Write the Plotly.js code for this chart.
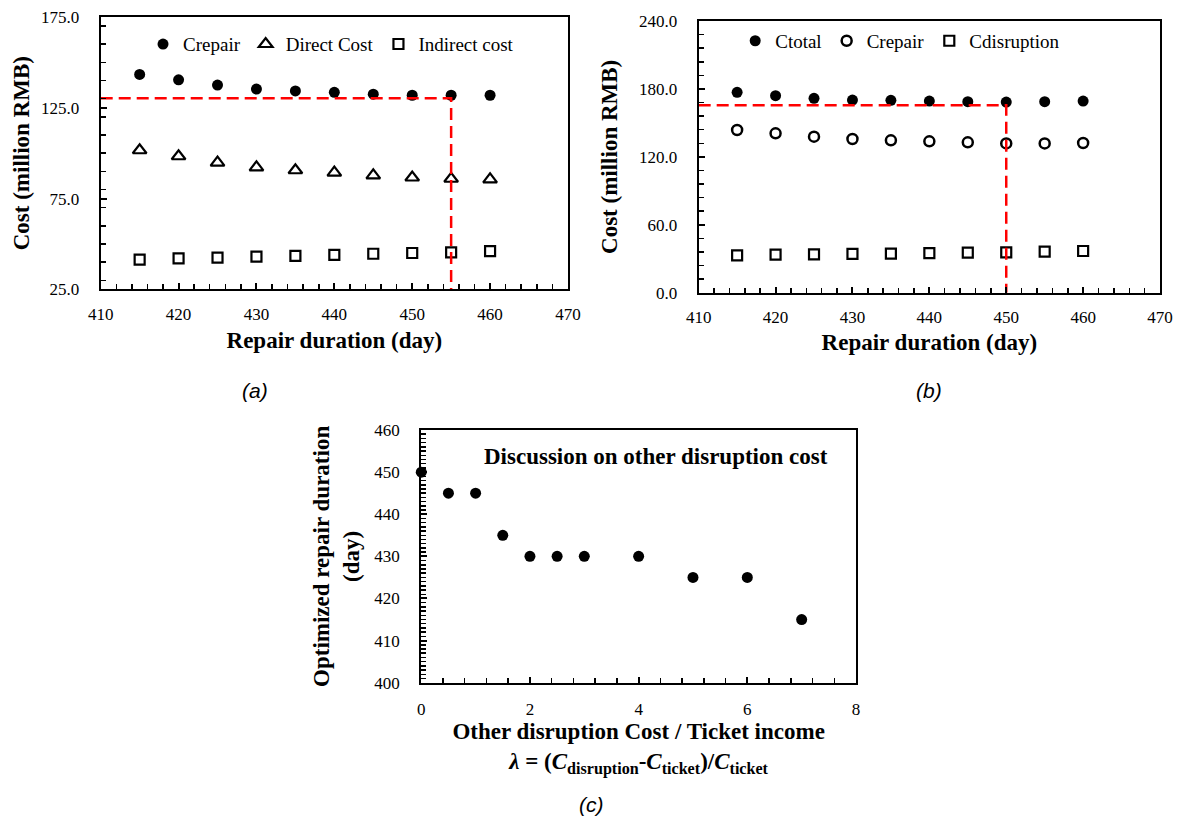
<!DOCTYPE html>
<html>
<head>
<meta charset="utf-8">
<script src="https://cdn.plot.ly/plotly-3.0.1.min.js"></script>
<style>
  html, body { margin: 0; padding: 0; background: #ffffff; }
  #chart { width: 1182px; height: 818px; }
</style>
</head>
<body>
<div id="chart"></div>
<script>
// ---------- data ----------
const repairDuration = [415, 420, 425, 430, 435, 440, 445, 450, 455, 460];

// panel (a)
const aCrepair      = [143.4, 140.4, 137.5, 135.3, 134.3, 133.5, 132.5, 131.9, 131.9, 131.9];
const aDirectCost   = [101.6, 98.3, 94.8, 92.2, 90.6, 89.3, 87.8, 86.6, 85.9, 85.6];
const aIndirectCost = [41.4, 42.0, 42.5, 43.0, 43.4, 44.0, 44.6, 45.0, 45.4, 46.0];
const aOptimumX = [410, 455, 455];
const aOptimumY = [130.2, 130.2, 25];

// panel (b)
const bCtotal      = [177.0, 174.0, 171.7, 170.2, 169.9, 169.3, 168.7, 168.4, 168.7, 169.3];
const bCrepair     = [143.7, 140.8, 137.8, 135.8, 134.6, 133.7, 132.8, 131.9, 131.9, 132.2];
const bCdisruption = [33.0, 33.6, 33.9, 34.2, 34.5, 35.0, 35.3, 35.6, 36.2, 36.8];
const bOptimumX = [410, 450, 450];
const bOptimumY = [165.5, 165.5, 0];

// panel (c)
const lambdaRatio = [0, 0.5, 1, 1.5, 2, 2.5, 3, 4, 5, 6, 7];
const optimizedDuration = [450, 445, 445, 435, 430, 430, 430, 430, 425, 425, 415];

// ---------- styling ----------
const SERIF = 'Liberation Serif';
const SANS = 'Liberation Sans';
const tickFont = {family: SERIF, size: 17, color: '#000'};
const titleFont = {family: SERIF, size: 23, color: '#000', weight: 'bold'};

function axis(extra) {
  return Object.assign({
    showline: true, linecolor: '#000', linewidth: 2, mirror: true,
    ticks: 'inside', ticklen: 6, tickwidth: 2, tickcolor: '#000',
    showgrid: false, zeroline: false, fixedrange: true,
    tickfont: tickFont
  }, extra);
}
function minor(dt) {
  return {ticks: 'inside', ticklen: 5, tickwidth: 1.5, tickcolor: '#000', dtick: dt, showgrid: false};
}

const redLine = {color: '#ff0000', width: 2.5, dash: '12px,6px'};

const traces = [
  // (a)
  {x: repairDuration, y: aCrepair, name: 'Crepair', type: 'scatter', mode: 'markers',
   marker: {symbol: 'circle', size: 11, color: '#000'}, xaxis: 'x', yaxis: 'y', legend: 'legend', cliponaxis: false},
  {x: repairDuration, y: aDirectCost, name: 'Direct Cost', type: 'scatter', mode: 'markers',
   marker: {symbol: 'triangle-up-open', size: 12, color: '#000', line: {width: 2.2, color: '#000'}}, xaxis: 'x', yaxis: 'y', legend: 'legend', cliponaxis: false},
  {x: repairDuration, y: aIndirectCost, name: 'Indirect cost', type: 'scatter', mode: 'markers',
   marker: {symbol: 'square-open', size: 10, color: '#000', line: {width: 2.2, color: '#000'}}, xaxis: 'x', yaxis: 'y', legend: 'legend', cliponaxis: false},
  {x: aOptimumX, y: aOptimumY, type: 'scatter', mode: 'lines', line: redLine, showlegend: false,
   xaxis: 'x', yaxis: 'y', hoverinfo: 'skip'},
  // (b)
  {x: repairDuration, y: bCtotal, name: 'Ctotal', type: 'scatter', mode: 'markers',
   marker: {symbol: 'circle', size: 11, color: '#000'}, xaxis: 'x2', yaxis: 'y2', legend: 'legend2', cliponaxis: false},
  {x: repairDuration, y: bCrepair, name: 'Crepair', type: 'scatter', mode: 'markers',
   marker: {symbol: 'circle-open', size: 10, color: '#000', line: {width: 2.5, color: '#000'}}, xaxis: 'x2', yaxis: 'y2', legend: 'legend2', cliponaxis: false},
  {x: repairDuration, y: bCdisruption, name: 'Cdisruption', type: 'scatter', mode: 'markers',
   marker: {symbol: 'square-open', size: 10, color: '#000', line: {width: 2.2, color: '#000'}}, xaxis: 'x2', yaxis: 'y2', legend: 'legend2', cliponaxis: false},
  {x: bOptimumX, y: bOptimumY, type: 'scatter', mode: 'lines', line: redLine, showlegend: false,
   xaxis: 'x2', yaxis: 'y2', hoverinfo: 'skip'},
  // (c)
  {x: lambdaRatio, y: optimizedDuration, type: 'scatter', mode: 'markers', showlegend: false,
   marker: {symbol: 'circle', size: 11, color: '#000'}, xaxis: 'x3', yaxis: 'y3', cliponaxis: false}
];

const layout = {
  width: 1182, height: 818,
  margin: {l: 0, r: 0, t: 0, b: 0},
  paper_bgcolor: '#fff', plot_bgcolor: '#fff',
  font: {family: SERIF, color: '#000'},
  showlegend: true,
  xaxis: axis({domain: [0.0852, 0.4805], anchor: 'y', range: [410, 470], dtick: 10, tick0: 410,
    minor: minor(2), ticklabelstandoff: 8,
    title: {text: 'Repair duration (day)', font: titleFont, standoff: 9}}),
  yaxis: axis({domain: [0.6463, 0.9792], anchor: 'x', range: [25, 175], dtick: 50, tick0: 25,
    tickformat: '.1f', minor: minor(10), ticklabelstandoff: 16,
    title: {text: 'Cost (million RMB)', font: titleFont, standoff: 5}}),
  xaxis2: axis({domain: [0.5911, 0.9814], anchor: 'y2', range: [410, 470], dtick: 10, tick0: 410,
    minor: minor(2), ticklabelstandoff: 8,
    title: {text: 'Repair duration (day)', font: titleFont, standoff: 8}}),
  yaxis2: axis({domain: [0.6422, 0.9743], anchor: 'x2', range: [0, 240], dtick: 60, tick0: 0,
    tickformat: '.1f', minor: minor(12), ticklabelstandoff: 16,
    title: {text: 'Cost (million RMB)', font: titleFont, standoff: 15}}),
  xaxis3: axis({domain: [0.3564, 0.7242], anchor: 'y3', range: [0, 8], dtick: 2, tick0: 0,
    minor: minor(0.4), ticklabelstandoff: 10,
    title: {text: 'Other disruption Cost / Ticket income<br><i>λ</i> = (<i>C</i><sub>disruption</sub>-<i>C</i><sub>ticket</sub>)/<i>C</i><sub>ticket</sub>',
            font: titleFont, standoff: 0}}),
  yaxis3: axis({domain: [0.1654, 0.4743], anchor: 'x3', range: [400, 460], dtick: 10, tick0: 400,
    minor: minor(1), ticklabelstandoff: 16,
    title: {text: 'Optimized repair duration<br>(day)', font: titleFont, standoff: 8}}),
  legend: {x: 0.121, y: 0.946, xanchor: 'left', yanchor: 'middle', orientation: 'h',
    font: {family: SERIF, size: 19, color: '#000'}, bgcolor: 'rgba(0,0,0,0)', itemwidth: 30},
  legend2: {x: 0.622, y: 0.95, xanchor: 'left', yanchor: 'middle', orientation: 'h',
    font: {family: SERIF, size: 19, color: '#000'}, bgcolor: 'rgba(0,0,0,0)', itemwidth: 30},
  annotations: [
    {text: '<b>Discussion on other disruption cost</b>', xref: 'paper', yref: 'paper',
     x: 0.5546, y: 0.4417, xanchor: 'center', yanchor: 'middle', showarrow: false,
     font: {family: SERIF, size: 23, color: '#000'}},
    {text: '<i>(a)</i>', xref: 'paper', yref: 'paper', x: 0.2157, y: 0.5232,
     xanchor: 'center', yanchor: 'middle', showarrow: false,
     font: {family: SANS, size: 21, color: '#000'}},
    {text: '<i>(b)</i>', xref: 'paper', yref: 'paper', x: 0.786, y: 0.5232,
     xanchor: 'center', yanchor: 'middle', showarrow: false,
     font: {family: SANS, size: 21, color: '#000'}},
    {text: '<i>(c)</i>', xref: 'paper', yref: 'paper', x: 0.5, y: 0.0159,
     xanchor: 'center', yanchor: 'middle', showarrow: false,
     font: {family: SANS, size: 21, color: '#000'}}
  ]
};

Plotly.newPlot('chart', traces, layout, {displayModeBar: false, staticPlot: true});
</script>
</body>
</html>
